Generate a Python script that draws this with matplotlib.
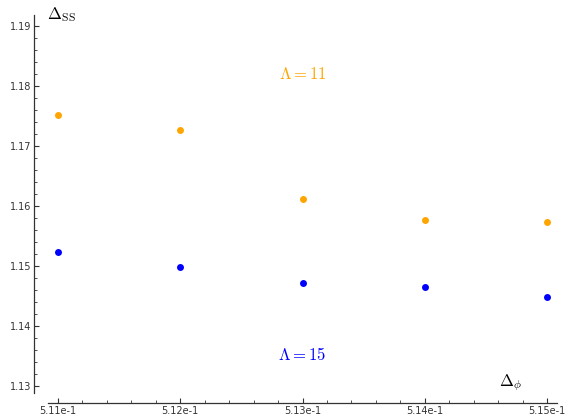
import matplotlib
matplotlib.use("Agg")
import numpy as np
import matplotlib.pyplot as plt
from matplotlib.ticker import MultipleLocator, FixedLocator, FormatStrFormatter, FuncFormatter

plt.rcParams['mathtext.fontset'] = 'cm'

# data
delta_phi = [0.511, 0.512, 0.513, 0.514, 0.515]
lambda11 = [1.1752, 1.1726, 1.1612, 1.1576, 1.1574]
lambda15 = [1.1523, 1.1498, 1.1472, 1.1465, 1.1448]

fig = plt.figure(figsize=(5.72, 4.18), dpi=100)
ax = fig.add_axes([48 / 572, 15 / 418, 509 / 572, 388 / 418])

ax.plot(delta_phi, lambda11, 'o', color='#FFA500', ms=5, mec='none')
ax.plot(delta_phi, lambda15, 'o', color='#0000FF', ms=5, mec='none')

ax.set_xlim(0.51092, 0.51508)
ax.set_ylim(1.12717, 1.19183)

for s in ['top', 'right']:
    ax.spines[s].set_visible(False)
ax.spines['left'].set_position(('outward', 10))
ax.spines['left'].set_bounds(1.12883, 1.19183)
for s in ['left', 'bottom']:
    ax.spines[s].set_color('#333333')
    ax.spines[s].set_linewidth(0.9)

ax.xaxis.set_major_locator(MultipleLocator(0.001))
ax.xaxis.set_minor_locator(MultipleLocator(0.0002))
ax.yaxis.set_major_locator(MultipleLocator(0.01))
# minor ticks only along the drawn part of the left axis
ax.yaxis.set_minor_locator(FixedLocator(np.arange(1.13, 1.1915, 0.002)))
ax.xaxis.set_major_formatter(FuncFormatter(lambda v, p: '%.2fe-1' % (v * 10)))
ax.yaxis.set_major_formatter(FormatStrFormatter('%.2f'))

ax.tick_params(which='both', direction='in', labelsize=7, colors='#333333', pad=2)
ax.tick_params(which='major', length=3.5, width=0.8)
ax.tick_params(which='minor', length=2, width=0.6)

ax.text(0.513, 1.182, r'$\Lambda = 11$', color='#FFA500', fontsize=12,
        ha='center', va='center')
ax.text(0.513, 1.1352, r'$\Lambda = 15$', color='#0000FF', fontsize=12,
        ha='center', va='center')

fig.text(47 / 572, 1 - 15 / 418, r'$\Delta_{\mathrm{SS}}$', fontsize=12,
         ha='left', va='center')
fig.text(511 / 572, 1 - 383 / 418, r'$\Delta_{\phi}$', fontsize=12,
         ha='center', va='center')

fig.savefig('out.png', dpi=100)
